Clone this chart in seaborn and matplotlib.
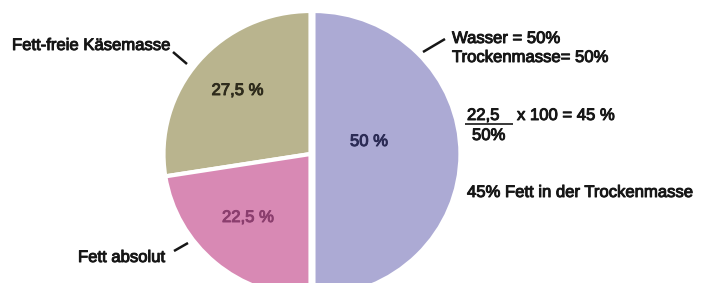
import matplotlib
matplotlib.use("Agg")
import matplotlib.pyplot as plt
import matplotlib.patheffects as pe
import seaborn as sns

# ---- data ----
categories = ["Fett-freie Käsemasse", "Fett absolut", "Wasser"]
values = [27.5, 22.5, 50.0]
value_labels = ["27,5 %", "22,5 %", "50 %"]
side_texts = ["Wasser = 50%", "Trockenmasse= 50%"]
fraction_num = "22,5"
fraction_den = "50%"
fraction_rest = "x 100 = 45 %"
result_text = "45% Fett in der Trockenmasse"

sns.set_theme(style="white")
plt.rcParams['font.family'] = ['Liberation Sans', 'DejaVu Sans']

colors = sns.color_palette(["#B9B48E", "#D889B4", "#ACAAD4"])
label_colors = ["#2e2b1c", "#8b3e6e", "#2b2b55"]

W, H = 702, 283
fig = plt.figure(figsize=(W / 100, H / 100), dpi=100)
fig.patch.set_facecolor("white")

# pie axes (pixel geometry)
cx, cy_top = 310.5, 154.0
rx, ry = 147.0, 143.0
x0, x1 = -1.0, 1.03
left = (cx - rx) / W
width = rx * (x1 - x0) / W
bottom = ((H - cy_top) - ry) / H
height = 2 * ry / H
ax = fig.add_axes([left, bottom, width, height])
wedges, _ = ax.pie(values, colors=colors, startangle=90, counterclock=True,
                   explode=[0, 0, 0.02],
                   wedgeprops=dict(edgecolor="white", linewidth=3))
for w in wedges:
    w.set_clip_on(False)
ax.set_xlim(x0, x1)
ax.set_ylim(-1, 1)
ax.set_aspect("auto")
ax.axis("off")

# overlay axes in pixel coordinates for annotations
ov = fig.add_axes([0, 0, 1, 1])
ov.set_xlim(0, W)
ov.set_ylim(H, 0)
ov.axis("off")
ov.patch.set_alpha(0)

fs = 12
txt_col = "#161616"


def bold_fx(c):
    return [pe.withStroke(linewidth=0.7, foreground=c)]


inner_pos = [(237.5, 95), (248, 222), (369, 146)]
for (x, y), lab, c in zip(inner_pos, value_labels, label_colors):
    ov.text(x, y, lab, ha="center", va="baseline", fontsize=fs, color=c,
            path_effects=bold_fx(c))

texts = [
    (12, 50, categories[0]),
    (78, 262, categories[1]),
    (452, 43, side_texts[0]),
    (452, 62, side_texts[1]),
    (467, 120, fraction_num),
    (472, 140, fraction_den),
    (517, 120, fraction_rest),
    (467, 197, result_text),
]
for x, y, s in texts:
    ov.text(x, y, s, ha="left", va="baseline", fontsize=fs, color=txt_col,
            path_effects=bold_fx(txt_col))

# fraction bar and leader lines
ov.plot([465, 513], [123.5, 123.5], color=txt_col, lw=1.2, solid_capstyle="butt")
for (xa, ya), (xb, yb) in [((173, 52), (187, 64)),
                           ((174, 251), (188, 243)),
                           ((423, 52), (445, 39))]:
    ov.plot([xa, xb], [ya, yb], color=txt_col, lw=1.8, solid_capstyle="butt")

fig.savefig("out.png", dpi=100, facecolor="white")
